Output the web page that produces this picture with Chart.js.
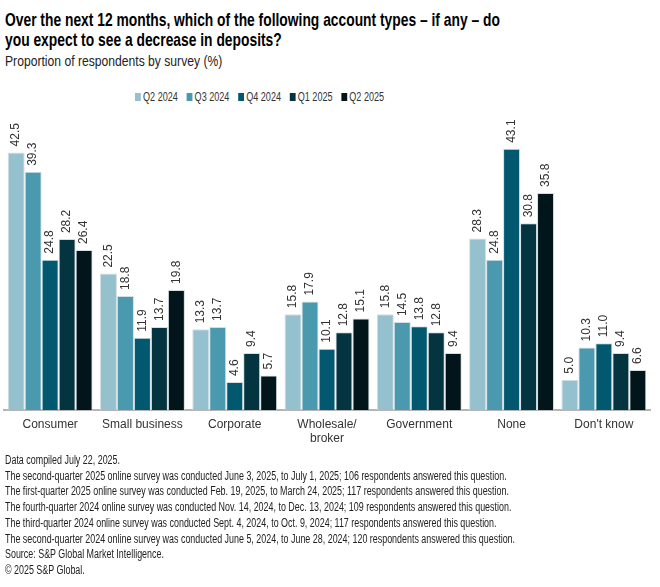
<!DOCTYPE html>
<html>
<head>
<meta charset="utf-8">
<script src="https://cdn.jsdelivr.net/npm/chart.js@4.4.1/dist/chart.umd.min.js"></script>
<style>
  body { margin: 0; background: #fff; font-family: "Liberation Sans", Arial, sans-serif; color: #1a1a1a; }
  #wrap { position: relative; width: 660px; height: 587px; overflow: hidden; }
  .fit { position: absolute; left: 5px; white-space: nowrap; transform-origin: 0 0; }
  #title { top: 10px; font-size: 19px; font-weight: bold; line-height: 20px; color: #000; }
  #subtitle { top: 52px; font-size: 15.5px; line-height: 18px; color: #222; }
  #legend { top: 89px; left: 135px; font-size: 12.5px; line-height: 16px; color: #333; display: flex; }
  #legend span.item { display: flex; align-items: center; margin-right: 12px; }
  #legend i { display: inline-block; width: 8px; height: 8px; margin-right: 3px; }
  #notes { top: 453px; font-size: 12.5px; line-height: 15.7px; color: #222; }
  #chartBox { position: absolute; left: 0; top: 100px; width: 660px; height: 354px; }
</style>
</head>
<body>
<div id="wrap">
  <div id="title" class="fit" data-w="495">Over the next 12 months, which of the following account types – if any – do<br>you expect to see a decrease in deposits?</div>
  <div id="subtitle" class="fit" data-w="217">Proportion of respondents by survey (%)</div>
  <div id="legend" class="fit" data-w="258"></div>
  <div id="chartBox"><canvas id="depositChart" width="660" height="354"></canvas></div>
  <div id="notes" class="fit" data-w="510">
    Data compiled July 22, 2025.<br>
    The second-quarter 2025 online survey was conducted June 3, 2025, to July 1, 2025; 106 respondents answered this question.<br>
    The first-quarter 2025 online survey was conducted Feb. 19, 2025, to March 24, 2025; 117 respondents answered this question.<br>
    The fourth-quarter 2024 online survey was conducted Nov. 14, 2024, to Dec. 13, 2024; 109 respondents answered this question.<br>
    The third-quarter 2024 online survey was conducted Sept. 4, 2024, to Oct. 9, 2024; 117 respondents answered this question.<br>
    The second-quarter 2024 online survey was conducted June 5, 2024, to June 28, 2024; 120 respondents answered this question.<br>
    Source: S&amp;P Global Market Intelligence.<br>
    © 2025 S&amp;P Global.
  </div>
</div>
<script>
// Data
const categories = ['Consumer', 'Small business', 'Corporate', ['Wholesale/', 'broker'], 'Government', 'None', "Don't know"];
const seriesNames = ['Q2 2024', 'Q3 2024', 'Q4 2024', 'Q1 2025', 'Q2 2025'];
const q2_2024 = [42.5, 22.5, 13.3, 15.8, 15.8, 28.3, 5.0];
const q3_2024 = [39.3, 18.8, 13.7, 17.9, 14.5, 24.8, 10.3];
const q4_2024 = [24.8, 11.9, 4.6, 10.1, 13.8, 43.1, 11.0];
const q1_2025 = [28.2, 13.7, 9.4, 12.8, 12.8, 30.8, 9.4];
const q2_2025 = [26.4, 19.8, 5.7, 15.1, 9.4, 35.8, 6.6];
const seriesColors = ['#94c1cd', '#4b99ae', '#02596f', '#04343f', '#02151b'];

const seriesValues = [q2_2024, q3_2024, q4_2024, q1_2025, q2_2025];

// Legend (html)
const legendEl = document.getElementById('legend');
seriesNames.forEach((name, i) => {
    const item = document.createElement('span');
    item.className = 'item';
    item.innerHTML = '<i style="background:' + seriesColors[i] + '"></i>' + name;
    legendEl.appendChild(item);
});

// squeeze html text to the reference widths
document.querySelectorAll('.fit').forEach(el => {
    const target = +el.dataset.w;
    const w = el.scrollWidth;
    if (w > 0) el.style.transform = 'scaleX(' + (target / w) + ')';
});

// rotated value labels above each bar
const valueLabels = {
    id: 'valueLabels',
    afterDatasetsDraw(chart) {
        const ctx = chart.ctx;
        ctx.save();
        ctx.font = '12px "Liberation Sans", Arial, sans-serif';
        ctx.fillStyle = '#333';
        ctx.textAlign = 'left';
        ctx.textBaseline = 'middle';
        chart.data.datasets.forEach((ds, di) => {
            chart.getDatasetMeta(di).data.forEach((bar, i) => {
                ctx.save();
                ctx.translate(bar.x, bar.y - 6);
                ctx.rotate(-Math.PI / 2);
                ctx.fillText(ds.data[i].toFixed(1), 0, 0);
                ctx.restore();
            });
        });
        ctx.restore();
    }
};

const ctx = document.getElementById('depositChart').getContext('2d');
const depositChart = new Chart(ctx, {
    type: 'bar',
    data: {
        labels: categories,
        datasets: seriesNames.map((name, i) => ({
            label: name,
            data: seriesValues[i],
            backgroundColor: seriesColors[i],
            borderColor: '#d6dde0',
            borderWidth: 1,
            categoryPercentage: 0.92,
            barPercentage: 1
        }))
    },
    options: {
        responsive: false,
        animation: false,
        layout: { padding: { top: 7, left: 4, right: 10, bottom: 0 } },
        scales: {
            x: {
                grid: { display: false, drawTicks: false },
                border: { display: true, color: '#b5b5b5', width: 2 },
                ticks: {
                    padding: 8,
                    color: '#333',
                    font: { family: '"Liberation Sans", Arial, sans-serif', size: 12, lineHeight: 1.17 },
                    maxRotation: 0,
                    autoSkip: false
                }
            },
            y: { display: false, min: 0, max: 50 }
        },
        plugins: {
            legend: { display: false },
            tooltip: { enabled: false },
            title: { display: false }
        }
    },
    plugins: [valueLabels]
});
</script>
</body>
</html>
